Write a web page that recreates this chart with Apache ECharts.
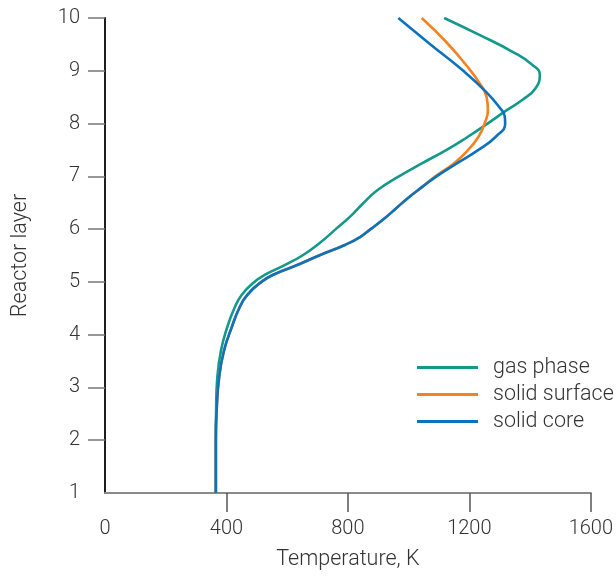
<!DOCTYPE html>
<html>
<head>
<meta charset="utf-8">
<script src="https://cdn.jsdelivr.net/npm/echarts@6/dist/echarts.min.js"></script>
<style>
html,body{margin:0;padding:0;background:#fff;}
#c{width:616px;height:576px;}
</style>
</head>
<body>
<div id="c"></div>
<script>
// Data (Temperature in K vs reactor layer)
var seriesNames = ['gas phase', 'solid surface', 'solid core'];
var xTicks = [0, 400, 800, 1200, 1600];
var yTicks = [1, 2, 3, 4, 5, 6, 7, 8, 9, 10];

var gasLayer = [1.0,2.0,2.6,3.2,3.7,4.15,4.5,4.75,5.0,5.15,5.3,5.5,5.75,6.0,6.25,6.5,6.75,7.0,7.25,7.5,7.75,8.0,8.25,8.45,8.67,8.92,9.11,9.36,9.68,10.0];
var gasTemp  = [365,365,366,370,382,403,426,450,492,532,585,650,710,760,810,852,900,968,1045,1125,1195,1260,1322,1375,1418,1432,1408,1342,1233,1117];

var surfLayer = [1.0,2.0,2.6,3.2,3.7,4.15,4.5,4.75,5.0,5.15,5.3,5.5,5.7,5.85,6.0,6.2,6.4,6.6,6.8,7.0,7.25,7.5,7.75,8.0,8.25,8.5,8.77,9.11,9.55,10.0];
var surfTemp  = [365,365,368,376,392,418,442,468,515,560,625,705,790,840,875,920,960,1000,1045,1088,1150,1196,1230,1250,1261,1257,1233,1189,1123,1043];

var coreLayer = [1.0,2.0,2.6,3.2,3.7,4.15,4.5,4.75,5.0,5.15,5.3,5.5,5.7,5.85,6.0,6.2,6.4,6.6,6.8,7.0,7.25,7.5,7.75,8.0,8.15,8.3,8.6,9.0,9.5,10.0];
var coreTemp  = [365,365,368,376,392,418,442,468,515,560,625,705,790,840,875,920,960,1000,1045,1092,1160,1230,1287,1318,1316,1300,1255,1180,1072,966];

var colors = ['#12998a', '#f58220', '#0b72bd'];

function zip(t, l) { return t.map(function (v, i) { return [v, l[i]]; }); }

var FONT = 'Roboto';
var chart = echarts.init(document.getElementById('c'), null, {renderer: 'canvas'});
chart.setOption({
  animation: false,
  backgroundColor: '#ffffff',
  color: colors,
  grid: {left: 105, right: 24, top: 18, bottom: 82, containLabel: false},
  legend: {
    orient: 'vertical',
    left: 412, top: 349,
    icon: 'rect',
    itemWidth: 61, itemHeight: 3,
    itemGap: 0,
    data: seriesNames,
    textStyle: {fontFamily: FONT, fontWeight: 300, fontSize: 21.5, color: '#333', lineHeight: 27, padding: [0, 0, 0, 10]}
  },
  xAxis: {
    type: 'value', min: xTicks[0], max: xTicks[xTicks.length - 1], interval: 400,
    name: 'Temperature, K', nameLocation: 'middle', nameGap: 56,
    nameTextStyle: {fontFamily: FONT, fontWeight: 300, fontSize: 21.5, color: '#333'},
    axisLine: {show: true, onZero: false, lineStyle: {color: '#8a8a8a', width: 2}},
    axisTick: {show: true, length: 19, customValues: xTicks.slice(1), lineStyle: {color: '#555', width: 1.5}},
    axisLabel: {margin: 26, fontFamily: FONT, fontWeight: 300, fontSize: 20, color: '#333',
      formatter: function (v) { return String(v); }},
    splitLine: {show: false}
  },
  yAxis: {
    type: 'value', min: yTicks[0], max: yTicks[yTicks.length - 1], interval: 1,
    name: 'Reactor layer', nameLocation: 'middle', nameGap: 73,
    nameTextStyle: {fontFamily: FONT, fontWeight: 300, fontSize: 21.5, color: '#333'},
    axisLine: {show: true, onZero: false, lineStyle: {color: '#1e1e1e', width: 2}},
    axisTick: {show: true, length: 17, customValues: yTicks.slice(1), lineStyle: {color: '#777', width: 1.5}},
    axisLabel: {margin: 25, fontFamily: FONT, fontWeight: 300, fontSize: 20, color: '#333'},
    splitLine: {show: false}
  },
  series: [
    {name: seriesNames[0], type: 'line', data: zip(gasTemp, gasLayer), smooth: 0.5, symbol: 'none', lineStyle: {width: 2.6, color: colors[0]}, z: 2},
    {name: seriesNames[1], type: 'line', data: zip(surfTemp, surfLayer), smooth: 0.5, symbol: 'none', lineStyle: {width: 2.6, color: colors[1]}, z: 3},
    {name: seriesNames[2], type: 'line', data: zip(coreTemp, coreLayer), smooth: 0.5, symbol: 'none', lineStyle: {width: 2.6, color: colors[2]}, z: 4}
  ]
});
</script>
</body>
</html>
